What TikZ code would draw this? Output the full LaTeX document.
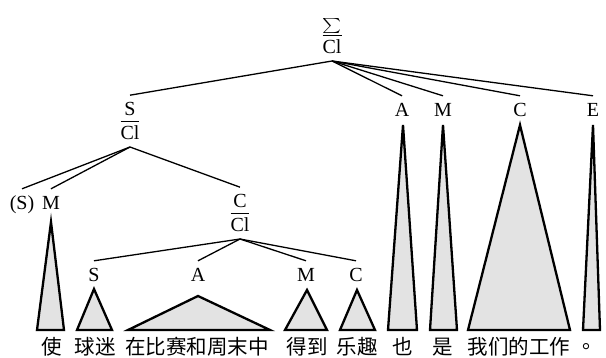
\documentclass[tikz,border=0pt]{standalone}
\usepackage{amsmath}
\usepackage{graphicx}
\usepackage{fontspec}
\setmainfont{Liberation Serif}
\newfontfamily\cjk{Noto Sans CJK SC}
% fraction: #1 numerator, #2 gap below numerator, #3 denominator
\newcommand{\myfr}[3]{%
  \vbox{\offinterlineskip\halign{\hfil##\hfil\cr
    #1\cr
    \noalign{\kern#2}
    \omit\leaders\hrule height 1.4pt\hfill\cr
    \noalign{\kern3.5pt}
    #3\cr}}}
\begin{document}
\begin{tikzpicture}[x=1pt,y=-1pt,
  lab/.style={font=\fontsize{20}{22}\selectfont, text height=13pt, text depth=0pt, inner xsep=0pt, inner ysep=7pt, anchor=base},
  fracnode/.style={font=\fontsize{20}{22}\selectfont, inner xsep=0pt, inner ysep=7pt, anchor=south},
  edge/.style={line width=1.3pt},
  tri/.style={line width=2.3pt, fill=gray!22, line join=miter},
  word/.style={font=\cjk\fontsize{20.5}{22}\selectfont, inner sep=0pt}]
\useasboundingbox (0,0) rectangle (606,357);
% fractions
\node[fracnode] (root) at (332,61) {\myfr{\resizebox*{19pt}{15pt}{$\textstyle\sum$}}{1.5pt}{Cl}};
\node[fracnode] (scl) at (130,147) {\myfr{S}{5pt}{Cl}};
\node[fracnode] (ccl) at (240,239) {\myfr{C}{5pt}{Cl}};
% labels
\node[lab] (a1) at (402,116) {A};
\node[lab] (m1) at (443,116) {M};
\node[lab] (c1) at (520,116) {C};
\node[lab] (e1) at (593,116) {E};
\node[lab] (s0) at (22,209) {(S)};
\node[lab] (m0) at (51,209) {M};
\node[lab] (s2) at (94,281) {S};
\node[lab] (a2) at (198,281) {A};
\node[lab] (m2) at (306,281) {M};
\node[lab] (c2) at (356,281) {C};
% edges
\draw[edge] (root.south) -- (scl.north);
\draw[edge] (root.south) -- (a1.north);
\draw[edge] (root.south) -- (m1.north);
\draw[edge] (root.south) -- (c1.north);
\draw[edge] (root.south) -- (e1.north);
\draw[edge] (scl.south) -- (s0.north);
\draw[edge] (scl.south) -- (m0.north);
\draw[edge] (scl.south) -- (ccl.north);
\draw[edge] (ccl.south) -- (s2.north);
\draw[edge] (ccl.south) -- (a2.north);
\draw[edge] (ccl.south) -- (m2.north);
\draw[edge] (ccl.south) -- (c2.north);
% triangles
\draw[tri] (37,330) -- (51,222) -- (64,330) -- cycle;
\draw[tri] (77,330) -- (94,289) -- (112,330) -- cycle;
\draw[tri] (128,330) -- (198,296) -- (270,330) -- cycle;
\draw[tri] (285,330) -- (307,290) -- (327,330) -- cycle;
\draw[tri] (340,330) -- (357,290) -- (375,330) -- cycle;
\draw[tri] (388,330) -- (403,125) -- (417,330) -- cycle;
\draw[tri] (430,330) -- (443,125) -- (457,330) -- cycle;
\draw[tri] (468,330) -- (520,125) -- (570,330) -- cycle;
\draw[tri] (583,330) -- (593,125) -- (600,330) -- cycle;
% words
\node[word] (w1) at (52,347) {使};
\node[word] (w2) at (95,347) {球迷};
\node[word] (w3) at (197,347) {在比赛和周末中};
\node[word] (w4) at (307,347) {得到};
\node[word] (w5) at (357,347) {乐趣};
\node[word] (w6) at (403,347) {也};
\node[word] (w7) at (443,347) {是};
\node[word] (w8) at (519,347) {我们的工作};
\node[word] (w9) at (593,347) {。};
\end{tikzpicture}
\end{document}
